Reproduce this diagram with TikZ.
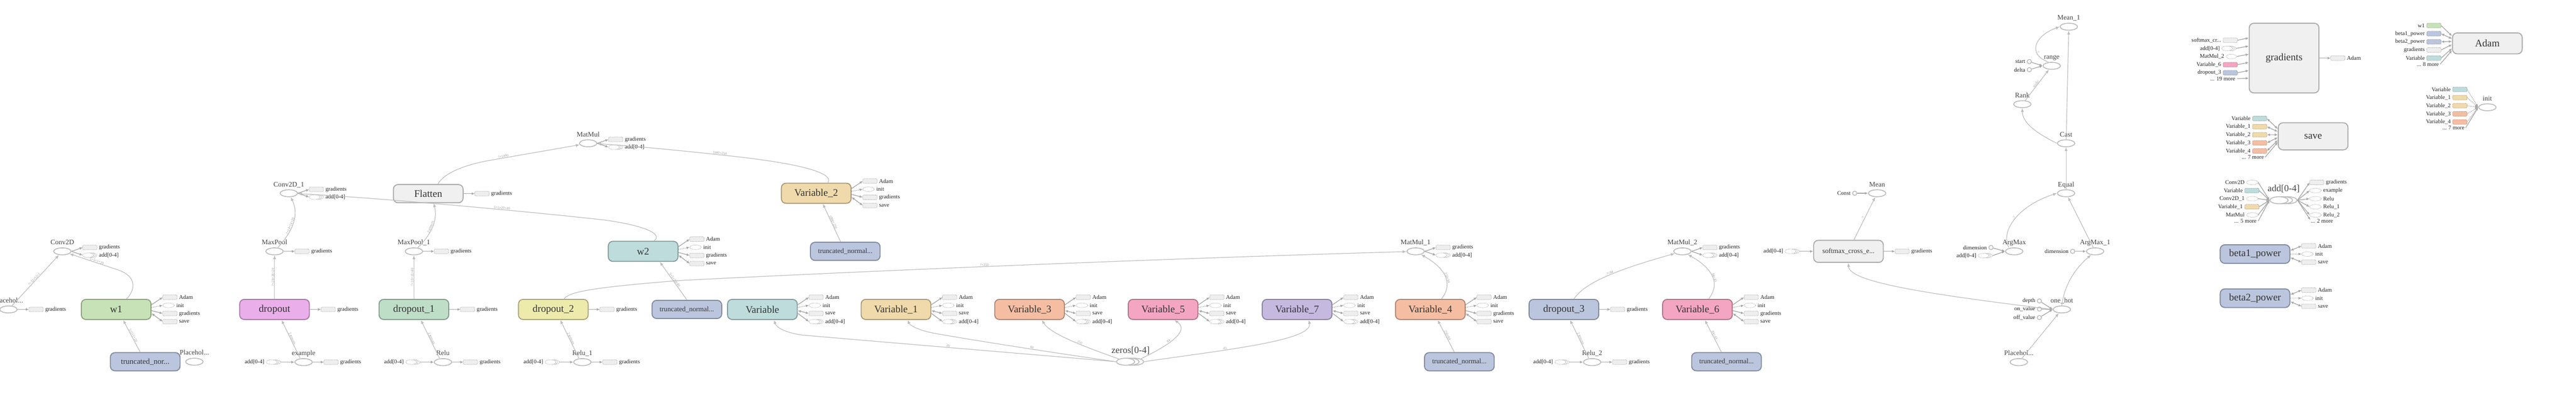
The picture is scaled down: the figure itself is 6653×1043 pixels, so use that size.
\documentclass[tikz,border=0pt]{standalone}
\usepackage{fontspec}
\setmainfont{Liberation Serif}
\usetikzlibrary{arrows.meta,shapes.geometric,calc}
\definecolor{edgec}{HTML}{BDBDBD}
\definecolor{opc}{HTML}{BBBBBB}
\definecolor{auxd}{HTML}{AAAAAA}
\definecolor{auxf}{HTML}{EEEEEE}
\definecolor{auxac}{HTML}{A8A8A8}
\definecolor{labc}{HTML}{444444}
\definecolor{boxt}{HTML}{333333}
\definecolor{auxtc}{HTML}{222222}
\definecolor{elabc}{HTML}{999999}
\definecolor{metaf}{HTML}{F0F0F0}
\definecolor{metad}{HTML}{AAAAAA}
\definecolor{greenf}{HTML}{C6E2B6}\definecolor{greend}{HTML}{8BA27A}
\definecolor{violetf}{HTML}{EAAEEA}\definecolor{violetd}{HTML}{A677A6}
\definecolor{mintf}{HTML}{BEDEC7}\definecolor{mintd}{HTML}{849A8B}
\definecolor{yellowf}{HTML}{EDEBAC}\definecolor{yellowd}{HTML}{A6A479}
\definecolor{bluef}{HTML}{BBC6DE}\definecolor{blued}{HTML}{80899C}
\definecolor{tealf}{HTML}{BEDCDC}\definecolor{teald}{HTML}{859A9A}
\definecolor{tanf}{HTML}{F0DAAB}\definecolor{tand}{HTML}{A99878}
\definecolor{peachf}{HTML}{F5BEA3}\definecolor{peachd}{HTML}{AC8573}
\definecolor{pinkf}{HTML}{F4A5C1}\definecolor{pinkd}{HTML}{AB7487}
\definecolor{lavf}{HTML}{C6B9E0}\definecolor{lavd}{HTML}{8A819D}
\newcommand{\tbBig}{\fontsize{26}{28}\selectfont}
\newcommand{\tbSer}{\fontsize{24}{26}\selectfont}
\newcommand{\tbMed}{\fontsize{18}{20}\selectfont}
\newcommand{\tbTrA}{\fontsize{20}{22}\selectfont}
\newcommand{\tbTrB}{\fontsize{18}{20}\selectfont}
\newcommand{\tbSm}{\fontsize{14.7}{16}\selectfont}
\newcommand{\tbTiny}{\fontsize{9}{10}\selectfont}
\tikzset{
  tbox/.style={rectangle, rounded corners=12pt, line width=2.5pt, minimum width=180pt, minimum height=52pt, inner sep=0pt, font=\tbBig, text=boxt},
  metabox/.style={tbox, fill=metaf, draw=metad},
  trnc/.style={tbox, fill=bluef, draw=blued, minimum height=47pt, font=\tbTrB},
  opn/.style={ellipse, draw=opc, line width=2.2pt, minimum width=45pt, minimum height=18pt, inner sep=0pt, fill=white},
  serop/.style={opn, minimum width=47pt},
  oplab/.style={font=\tbMed, text=labc, inner sep=1pt, text depth=0pt, yshift=6pt},
  serlab/.style={font=\tbSer, text=labc, inner sep=0pt},
  cstn/.style={circle, draw=opc, line width=2pt, minimum size=11pt, inner sep=0pt, fill=white},
  auxb/.style={rectangle, rounded corners=3pt, draw=auxd, fill=auxf, line width=1pt, dash pattern=on 2pt off 1.5pt, minimum width=37pt, minimum height=12pt, inner sep=0pt, outer sep=0pt},
  auxe/.style={ellipse, draw=auxd, line width=1pt, dash pattern=on 2pt off 1.5pt, minimum width=30pt, minimum height=12pt, inner sep=0pt, outer sep=0pt},
  auxs/.style={auxe, minimum width=28pt},
  auxline/.style={draw=auxd, line width=1pt, dash pattern=on 2pt off 1.5pt},
  auxt/.style={anchor=west, font=\tbSm, text=auxtc, inner sep=1pt},
  auxtl/.style={anchor=east, font=\tbSm, text=auxtc, inner sep=1pt},
  conn/.style={draw=edgec, line width=1.6pt, -{Latex[length=10pt,width=8pt]}},
  auxarr/.style={draw=auxac, line width=1.8pt, -{Latex[length=8pt,width=7pt]}},
  auxdot/.style={auxarr, dash pattern=on 2pt off 2pt},
  auxboth/.style={draw=auxac, line width=1.8pt, {Latex[length=8pt,width=7pt]}-{Latex[length=8pt,width=7pt]}},
  elab/.style={font=\tbTiny, text=elabc, sloped, above, inner sep=0.5pt},
}
\newcommand{\gaux}[3]{\node[auxb,anchor=west] (#1) at #2 {};\node[auxt] (#1-t) at ([xshift=4pt]#1.east) {#3};}
\newcommand{\eaux}[3]{\node[auxe,anchor=west] (#1) at #2 {};\node[auxt] (#1-t) at ([xshift=4pt]#1.east) {#3};}
\newcommand{\sershape}[1]{\draw[auxline] ([xshift=4.5pt]#1.north) arc[start angle=90,end angle=-90,x radius=14pt,y radius=6pt];\draw[auxline] ([xshift=9pt]#1.north) arc[start angle=90,end angle=-90,x radius=14pt,y radius=6pt];}
\newcommand{\saux}[3]{\node[auxs,anchor=west] (#1) at #2 {};\sershape{#1}\node[auxt] (#1-t) at ([xshift=13pt]#1.east) {#3};}
\newcommand{\opaux}[1]{%
 \gaux{#1-g}{([xshift=29pt,yshift=10pt]#1.east)}{gradients}
 \saux{#1-a}{([xshift=29pt,yshift=-10pt]#1.east)}{add[0-4]}
 \draw[auxarr] (#1.east) -- (#1-g.west);
 \draw[auxarr] (#1.east) -- (#1-a.west);}
\newcommand{\opg}[1]{\gaux{#1-g}{([xshift=29pt]#1.east)}{gradients}\draw[auxarr] (#1.east) -- (#1-g.west);}
\newcommand{\opin}[1]{%
 \node[auxs] (#1-in) at ([xshift=-58.5pt]#1.west) {};\sershape{#1-in}
 \node[auxtl] (#1-int) at ([xshift=-4pt]#1-in.west) {add[0-4]};
 \draw[auxarr] ([xshift=9pt]#1-in.east) -- (#1.west);}
\newcommand{\varA}[1]{%
 \gaux{#1-ad}{([xshift=29pt,yshift=31.5pt]#1.east)}{Adam}
 \eaux{#1-in}{([xshift=29pt,yshift=10.5pt]#1.east)}{init}
 \gaux{#1-gr}{([xshift=29pt,yshift=-10.5pt]#1.east)}{gradients}
 \gaux{#1-sv}{([xshift=29pt,yshift=-31.5pt]#1.east)}{save}
 \draw[auxarr] ([yshift=12pt]#1.east) -- (#1-ad.west);
 \draw[auxdot] ([yshift=5pt]#1.east) -- (#1-in.west);
 \draw[auxarr] ([yshift=-3pt]#1.east) -- (#1-gr.west);
 \draw[auxboth] ([yshift=-10pt]#1.east) -- (#1-sv.west);}
\newcommand{\varB}[1]{%
 \gaux{#1-ad}{([xshift=29pt,yshift=31.5pt]#1.east)}{Adam}
 \eaux{#1-in}{([xshift=29pt,yshift=10.5pt]#1.east)}{init}
 \gaux{#1-sv}{([xshift=29pt,yshift=-10.5pt]#1.east)}{save}
 \saux{#1-ag}{([xshift=29pt,yshift=-31.5pt]#1.east)}{add[0-4]}
 \draw[auxarr] ([yshift=12pt]#1.east) -- (#1-ad.west);
 \draw[auxdot] ([yshift=5pt]#1.east) -- (#1-in.west);
 \draw[auxboth] ([yshift=-3pt]#1.east) -- (#1-sv.west);
 \draw[auxarr] ([yshift=-10pt]#1.east) -- (#1-ag.west);}
\newcommand{\betaaux}[1]{%
 \gaux{#1-ad}{([xshift=29pt,yshift=21pt]#1.east)}{Adam}
 \eaux{#1-in}{([xshift=29pt]#1.east)}{init}
 \gaux{#1-sv}{([xshift=29pt,yshift=-21pt]#1.east)}{save}
 \draw[auxboth] ([yshift=9pt]#1.east) -- (#1-ad.west);
 \draw[auxdot] (#1.east) -- (#1-in.west);
 \draw[auxboth] ([yshift=-9pt]#1.east) -- (#1-sv.west);}
\newcommand{\minib}[5]{\node[auxb, fill=#3, draw=#4] (#1) at #2 {};\node[auxtl] (#1-t) at ([xshift=-4pt]#1.west) {#5};}
\newcommand{\minie}[3]{\node[auxe] (#1) at #2 {};\node[auxtl] (#1-t) at ([xshift=-4pt]#1.west) {#3};}
\newcommand{\cstl}[3]{\node[cstn] (#1) at #2 {};\node[auxtl] (#1-t) at ([xshift=-3pt]#1.west) {#3};}
\begin{document}
\begin{tikzpicture}[x=1pt,y=-1pt]
\fill[white] (0,0) rectangle (6653,1043);
\useasboundingbox (0,0) rectangle (6653,1043);
% ===== left =====
\node[opn, label={[oplab]above:Placehol...}] (ph0) at (22,799) {};
\opg{ph0}
\node[opn, label={[oplab]above:Conv2D}] (conv) at (161,649) {};
\opaux{conv}
\node[tbox, fill=greenf, draw=greend] (w1) at (300,799) {w1};
\varA{w1}
\node[trnc, font=\tbTrA] (tr1) at (375,934) {truncated\_nor...};
\node[opn, label={[oplab]above:Placehol...}] (ph1) at (502,934) {};
\draw[conn] (ph0) -- (conv) node[elab,pos=0.5]{?×32×32×1};
\draw[conn] ([xshift=27pt]w1.north) .. controls (350,748) and (354,714) .. (305,697) -- (conv) node[elab,pos=0.45]{5×5×1×20};
\draw[conn] ([xshift=-13pt]tr1.north) -- ([xshift=18pt]w1.south) node[elab,pos=0.5]{5×5×1×20};
% ===== dropout =====
\node[tbox, fill=violetf, draw=violetd] (drop) at (709,799) {dropout};
\opg{drop}
\node[opn, label={[oplab]above:MaxPool}] (mp) at (709,649) {};
\opg{mp}
\node[opn, label={[oplab]above:Conv2D\_1}] (conv1) at (746,499) {};
\opaux{conv1}
\node[opn, label={[oplab]above:example}] (ex) at (784,935) {};
\opg{ex}
\opin{ex}
\draw[conn] ([xshift=-9pt]ex.north) -- ([xshift=18pt]drop.south) node[elab,pos=0.5]{2 tensors};
\draw[conn] (drop) -- (mp) node[elab,pos=0.5]{?×28×28×20};
\draw[conn] (mp) .. controls (742,612) and (778,565) .. (conv1) node[elab,pos=0.5]{?×14×14×20};
% ===== dropout_1 =====
\node[tbox, fill=mintf, draw=mintd] (drop1) at (1069,799) {dropout\_1};
\opg{drop1}
\node[opn, label={[oplab]above:MaxPool\_1}] (mp1) at (1069,649) {};
\opg{mp1}
\node[opn, label={[oplab]above:Relu}] (relu) at (1144,935) {};
\opg{relu}
\opin{relu}
\node[metabox, minimum height=47pt] (flat) at (1106,500) {Flatten};
\opg{flat}
\draw[conn] ([xshift=-9pt]relu.north) -- ([xshift=18pt]drop1.south) node[elab,pos=0.5]{2 tensors};
\draw[conn] (drop1) -- (mp1) node[elab,pos=0.5]{?×10×10×40};
\draw[conn] (mp1) .. controls (1110,610) and (1132,570) .. ([xshift=14pt]flat.south) node[elab,pos=0.5]{2 tensors};
% ===== MatMul =====
\node[opn, label={[oplab]above:MatMul}] (mm) at (1519,370) {};
\opaux{mm}
\draw[conn] ([xshift=25pt]flat.north) .. controls (1145,450) and (1190,428) .. (1260,415) -- (mm) node[elab,pos=0.17]{?×1000};
% ===== w2 =====
\node[tbox, fill=tealf, draw=teald] (w2) at (1661,649) {w2};
\varA{w2}
\node[trnc] (tr2) at (1774,799) {truncated\_normal...};
\draw[conn] (tr2.north) -- ([xshift=43pt]w2.south) node[elab,pos=0.5]{5×5×20×40};
\draw[conn] ([xshift=28pt]w2.north) .. controls (1708,610) and (1690,586) .. (1560,568) .. controls (1400,550) and (1000,512) .. (conv1) node[elab,pos=0.38]{5×5×20×40};
% ===== dropout_2 =====
\node[tbox, fill=yellowf, draw=yellowd] (drop2) at (1429,799) {dropout\_2};
\opg{drop2}
\node[opn, label={[oplab]above:Relu\_1}] (relu1) at (1504,935) {};
\opg{relu1}
\opin{relu1}
\draw[conn] ([xshift=-9pt]relu1.north) -- ([xshift=18pt]drop2.south) node[elab,pos=0.5]{2 tensors};
% ===== Variable_2 =====
\node[tbox, fill=tanf, draw=tand] (v2) at (2108,499) {Variable\_2};
\varA{v2}
\node[trnc] (tr3) at (2183,649) {truncated\_normal...};
\draw[conn] ([xshift=-12pt]tr3.north) -- ([xshift=17pt]v2.south) node[elab,pos=0.5]{1000×250};
\draw[conn] ([xshift=30pt]v2.north) .. controls (2150,455) and (2120,428) .. (1880,402) .. controls (1760,389) and (1640,377) .. (mm) node[elab,pos=0.06]{1000×250};
% ===== Variables row =====
\node[tbox, fill=tealf, draw=teald] (v0) at (1969,799) {Variable};
\varB{v0}
\node[tbox, fill=tanf, draw=tand] (v1) at (2314,799) {Variable\_1};
\varB{v1}
\node[tbox, fill=peachf, draw=peachd] (v3) at (2659,799) {Variable\_3};
\varB{v3}
\node[tbox, fill=pinkf, draw=pinkd] (v5) at (3004,799) {Variable\_5};
\varB{v5}
\node[tbox, fill=lavf, draw=lavd] (v7) at (3350,799) {Variable\_7};
\varB{v7}
% zeros
\node[serop] (zeros-b2) at (2930,934) {};
\node[serop] (zeros-b1) at (2918.5,934) {};
\node[serop] (zeros) at (2907,934) {};
\node[serlab] (zeros-l) at (2920,905) {zeros[0-4]};
\draw[conn] (zeros.west) .. controls (2700,918) and (2300,885) .. (2070,865) node[elab,pos=0.55]{20} .. controls (2025,858) and (2005,845) .. ([xshift=30pt]v0.south);
\draw[conn] (zeros.west) .. controls (2750,915) and (2520,880) .. (2410,860) node[elab,pos=0.45]{40} .. controls (2370,852) and (2350,840) .. ([xshift=30pt]v1.south);
\draw[conn] (zeros.north west) .. controls (2800,895) and (2712,862) .. ([xshift=32pt]v3.south) node[elab,pos=0.4]{150};
\draw[conn] ([xshift=21pt]zeros.north east) .. controls (3040,882) and (3068,850) .. ([xshift=29pt]v5.south) node[elab,pos=0.35]{84};
\draw[conn] ([xshift=23pt]zeros.east) .. controls (3150,905) and (3392,880) .. ([xshift=30pt]v7.south) node[elab,pos=0.35]{43};
% ===== MatMul_1 =====
\node[opn, label={[oplab]above:MatMul\_1}] (mm1) at (3656,649) {};
\opaux{mm1}
\draw[conn] ([xshift=28pt]drop2.north) .. controls (1468,757) and (1500,744) .. (1760,724) .. controls (2400,692) and (3100,665) .. (mm1) node[elab,pos=0.4]{?×250};
\node[tbox, fill=peachf, draw=peachd] (v4) at (3694,799) {Variable\_4};
\varA{v4}
\node[trnc] (tr4) at (3769,934) {truncated\_normal...};
\draw[conn] ([xshift=-13pt]tr4.north) -- ([xshift=19pt]v4.south) node[elab,pos=0.5]{250×84};
\draw[conn] ([xshift=29pt]v4.north) .. controls (3748,740) and (3745,700) .. (mm1) node[elab,pos=0.5]{250×84};
% ===== dropout_3 / MatMul_2 =====
\node[tbox, fill=bluef, draw=blued] (drop3) at (4039,799) {dropout\_3};
\opg{drop3}
\node[opn, label={[oplab]above:Relu\_2}] (relu2) at (4112,935) {};
\opg{relu2}
\opin{relu2}
\draw[conn] ([xshift=-9pt]relu2.north) -- ([xshift=16pt]drop3.south) node[elab,pos=0.5]{2 tensors};
\node[opn, label={[oplab]above:MatMul\_2}] (mm2) at (4345,649) {};
\opaux{mm2}
\draw[conn] ([xshift=26pt]drop3.north) .. controls (4095,725) and (4200,690) .. (mm2) node[elab,pos=0.5]{?×84};
\node[tbox, fill=pinkf, draw=pinkd] (v6) at (4384,799) {Variable\_6};
\varA{v6}
\node[trnc] (tr6) at (4459,934) {truncated\_normal...};
\draw[conn] ([xshift=-13pt]tr6.north) -- ([xshift=19pt]v6.south) node[elab,pos=0.5]{84×43};
\draw[conn] ([xshift=29pt]v6.north) .. controls (4438,740) and (4435,700) .. (mm2) node[elab,pos=0.5]{84×43};
% ===== softmax / Mean =====
\node[metabox, minimum height=57pt, font=\tbTrB] (sm) at (4774,649) {softmax\_cross\_e...};
\opg{sm}
\opin{sm}
\node[opn, label={[oplab]above:Mean}] (mean) at (4848,499) {};
\cstl{const}{(4790,499)}{Const}
\draw[auxarr] (const) -- (mean);
\draw[conn] ([xshift=14pt]sm.north) -- (mean) node[elab,pos=0.5]{?};
% ===== accuracy cluster =====
\node[opn, label={[oplab]above:one\_hot}] (oh) at (5325,799) {};
\cstl{depth}{(5267,777)}{depth}
\cstl{onv}{(5267,798)}{on\_value}
\cstl{offv}{(5267,820)}{off\_value}
\draw[auxarr] (depth) -- (oh.west);
\draw[auxarr] (onv) -- (oh.west);
\draw[auxarr] (offv) -- (oh.west);
\node[opn, label={[oplab]above:Placehol...}] (ph2) at (5214,935) {};
\draw[conn] (ph2) -- (oh);
\draw[conn] (oh.west) .. controls (5000,762) and (4775,730) .. (sm.south);
\node[opn, label={[oplab]above:ArgMax}] (am) at (5202,649) {};
\cstl{dim0}{(5142,639)}{dimension}
\node[auxs] (am-in) at (5123,660) {};
\sershape{am-in}
\node[auxtl] (am-int) at ([xshift=-4pt]am-in.west) {add[0-4]};
\draw[auxarr] (dim0) -- (am.west);
\draw[auxarr] ([xshift=9pt]am-in.east) -- (am.west);
\node[opn, label={[oplab]above:ArgMax\_1}] (am1) at (5411,649) {};
\cstl{dim1}{(5353,649)}{dimension}
\draw[auxarr] (dim1) -- (am1);
\node[opn, label={[oplab]above:Equal}] (eq) at (5336,499) {};
\node[opn, label={[oplab]above:Cast}] (cast) at (5336,370) {};
\node[opn, label={[oplab]above:Rank}] (rank) at (5223,269) {};
\node[opn, label={[oplab]above:range}] (range) at (5299,170) {};
\cstl{start}{(5241,159)}{start}
\cstl{delta}{(5241,180)}{delta}
\node[opn, label={[oplab]above:Mean\_1}] (mean1) at (5343,69) {};
\draw[auxarr] (start) -- (range.west);
\draw[auxarr] (delta) -- (range.west);
\draw[conn] ([xshift=-14pt]am.north) .. controls (5165,595) and (5215,530) .. (eq.west) node[elab,pos=0.5]{?};
\draw[conn] ([xshift=-5pt]am1.north) -- (eq);
\draw[conn] (oh.north) .. controls (5330,745) and (5352,700) .. (am1);
\draw[conn] (eq) -- (cast);
\draw[conn] (cast) -- (mean1);
\draw[conn] (cast.west) .. controls (5255,342) and (5223,315) .. (rank.south);
\draw[conn] (rank) -- (range) node[elab,pos=0.5]{scalar};
\draw[conn] ([xshift=-9pt]range.north) .. controls (5235,140) and (5255,92) .. (mean1.west) node[elab,pos=0.3]{?};
% ===== gradients =====
\node[metabox, minimum height=180pt] (grad) at (5899,150) {gradients};
\gaux{grad-o}{([xshift=29pt]grad.east)}{Adam}
\draw[auxarr] (grad.east) -- (grad-o.west);
\node[auxb] (gi1) at (5760,104) {};
\node[auxtl] (gi1-t) at ([xshift=-4pt]gi1.west) {softmax\_cr...};
\node[auxs] (gi2) at (5752,125) {};
\sershape{gi2}
\node[auxtl] (gi2-t) at ([xshift=-4pt]gi2.west) {add[0-4]};
\node[auxe, minimum width=27pt] (gi3) at (5763,146) {};
\node[auxtl] (gi3-t) at ([xshift=-4pt]gi3.west) {MatMul\_2};
\minib{gi4}{(5760,167)}{pinkf}{pinkd}{Variable\_6}
\minib{gi5}{(5760,188)}{bluef}{blued}{dropout\_3}
\node[auxtl] (gi6) at (5774,203) {... 19 more};
\draw[auxarr] (gi1.east) -- ([yshift=52pt]grad.west);
\draw[auxarr] ([xshift=9pt]gi2.east) -- ([yshift=31pt]grad.west);
\draw[auxarr] (gi3.east) -- ([yshift=10pt]grad.west);
\draw[auxarr] (gi4.east) -- ([yshift=-11pt]grad.west);
\draw[auxarr] (gi5.east) -- ([yshift=-32pt]grad.west);
\draw[auxarr] ([xshift=4pt]gi6.east) -- ([yshift=-52pt]grad.west);
% ===== Adam =====
\node[metabox, minimum height=54pt] (adam) at (6424,112) {Adam};
\minib{ai1}{(6286,66)}{greenf}{greend}{w1}
\minib{ai2}{(6286,87)}{bluef}{blued}{beta1\_power}
\minib{ai3}{(6286,108)}{bluef}{blued}{beta2\_power}
\minib{ai4}{(6286,129)}{auxf}{auxd}{gradients}
\minib{ai5}{(6286,150)}{tealf}{teald}{Variable}
\node[auxtl] (ai6) at (6300,166) {... 8 more};
\draw[auxarr] (ai1.east) -- ([yshift=19pt]adam.west);
\draw[auxboth] (ai2.east) -- ([yshift=12pt]adam.west);
\draw[auxboth] (ai3.east) -- ([yshift=5pt]adam.west);
\draw[auxarr] (ai4.east) -- ([yshift=-3pt]adam.west);
\draw[auxarr] (ai5.east) -- ([yshift=-13pt]adam.west);
\draw[auxarr] ([xshift=2pt]ai6.east) -- ([yshift=-18pt]adam.west);
% ===== save =====
\node[metabox, minimum height=70pt] (save) at (5974,352) {save};
\minib{si1}{(5836,306)}{tealf}{teald}{Variable}
\minib{si2}{(5836,327)}{tanf}{tand}{Variable\_1}
\minib{si3}{(5836,348)}{tanf}{tand}{Variable\_2}
\minib{si4}{(5836,369)}{peachf}{peachd}{Variable\_3}
\minib{si5}{(5836,390)}{peachf}{peachd}{Variable\_4}
\node[auxtl] (si6) at (5848,406) {... 7 more};
\draw[auxboth] (si1.east) -- ([yshift=19pt]save.west);
\draw[auxboth] (si2.east) -- ([yshift=12pt]save.west);
\draw[auxboth] (si3.east) -- ([yshift=4pt]save.west);
\draw[auxboth] (si4.east) -- ([yshift=-3pt]save.west);
\draw[auxboth] (si5.east) -- ([yshift=-10pt]save.west);
\draw[auxarr] ([xshift=2pt]si6.east) -- ([yshift=-15pt]save.west);
% ===== init =====
\node[opn, label={[oplab]above:init}] (init) at (6424,277) {};
\minib{ii1}{(6353,231)}{tealf}{teald}{Variable}
\minib{ii2}{(6353,252)}{tanf}{tand}{Variable\_1}
\minib{ii3}{(6353,273)}{tanf}{tand}{Variable\_2}
\minib{ii4}{(6353,294)}{peachf}{peachd}{Variable\_3}
\minib{ii5}{(6353,315)}{peachf}{peachd}{Variable\_4}
\node[auxtl] (ii6) at (6366,330) {... 7 more};
\draw[auxdot] (ii1.east) -- (init.west);
\draw[auxdot] (ii2.east) -- (init.west);
\draw[auxdot] (ii3.east) -- (init.west);
\draw[auxdot] (ii4.east) -- (init.west);
\draw[auxdot] (ii5.east) -- (init.west);
\draw[auxarr] ([xshift=2pt]ii6.east) -- (init.west);
% ===== add[0-4] group =====
\node[serop] (addg-b2) at (5909,517) {};
\node[serop] (addg-b1) at (5897.5,517) {};
\node[serop] (addg) at (5886,517) {};
\node[serlab] (addg-l) at (5898,487) {add[0-4]};
\minie{gg1}{(5817,471)}{Conv2D}
\minib{gg2}{(5816,492)}{tealf}{teald}{Variable}
\minie{gg3}{(5817,513)}{Conv2D\_1}
\minib{gg4}{(5816,534)}{tanf}{tand}{Variable\_1}
\minie{gg5}{(5817,555)}{MatMul}
\node[auxtl] (gg6) at (5829,571) {... 5 more};
\draw[auxarr] (gg1.east) -- (addg.west);
\draw[auxarr] (gg2.east) -- (addg.west);
\draw[auxarr] (gg3.east) -- (addg.west);
\draw[auxarr] (gg4.east) -- (addg.west);
\draw[auxarr] (gg5.east) -- (addg.west);
\draw[auxarr] ([xshift=3pt]gg6.east) -- (addg.west);
\gaux{go1}{(5965,471)}{gradients}
\eaux{go2}{(5965,492)}{example}
\eaux{go3}{(5965,513)}{Relu}
\eaux{go4}{(5965,534)}{Relu\_1}
\eaux{go5}{(5965,555)}{Relu\_2}
\node[auxt] (go6) at (5967,571) {... 2 more};
\draw[auxarr] (addg-b2.east) -- (go1.west);
\draw[auxarr] (addg-b2.east) -- (go2.west);
\draw[auxarr] (addg-b2.east) -- (go3.west);
\draw[auxarr] (addg-b2.east) -- (go4.west);
\draw[auxarr] (addg-b2.east) -- (go5.west);
\draw[auxarr] (addg-b2.east) -- ([yshift=3pt]go6.west);
% ===== beta powers =====
\node[tbox, fill=bluef, draw=blued, minimum height=48pt] (b1) at (5824,656) {beta1\_power};
\betaaux{b1}
\node[tbox, fill=bluef, draw=blued, minimum height=48pt] (b2) at (5824,770) {beta2\_power};
\betaaux{b2}
\end{tikzpicture}
\end{document}
